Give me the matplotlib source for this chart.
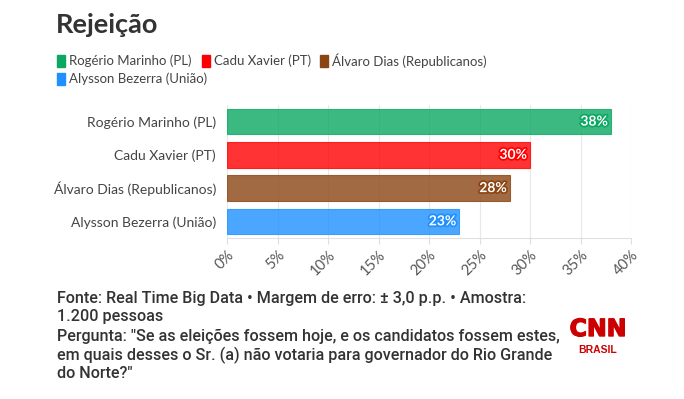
import matplotlib.pyplot as plt
import matplotlib.patheffects as pe

plt.rcParams['font.family'] = ['Lato', 'DejaVu Sans']

candidates = ['Rogério Marinho (PL)', 'Cadu Xavier (PT)', 'Álvaro Dias (Republicanos)', 'Alysson Bezerra (União)']
values = [38, 30, 28, 23]
colors = ['#0aa862', '#ff0000', '#8b4513', '#1e90ff']
ticks = [0, 5, 10, 15, 20, 25, 30, 35, 40]

fig = plt.figure(figsize=(6.84, 3.99), dpi=100)
ax = fig.add_axes([227 / 684, 1 - 238 / 399, (631 - 227) / 684, (238 - 105) / 399])

y = list(range(len(candidates)))[::-1]
ax.barh(y, values, height=0.76, color=colors, alpha=0.8, edgecolor=colors, linewidth=0.8, zorder=3)
for yi, v, c in zip(y, values, colors):
    ax.text(v - 0.3, yi, f'{v}%', ha='right', va='center', color='white', fontsize=10,
            fontweight='bold', zorder=4,
            path_effects=[pe.withStroke(linewidth=2.5, foreground=c)])

ax.set_xlim(0, 40)
ax.set_ylim(-0.5, 3.5)
ax.set_xticks(ticks)
ax.set_xticklabels([f'{t}%' for t in ticks], rotation=45, ha='right', rotation_mode='anchor',
                   fontsize=10.5, color='#555555')
ax.set_yticks(y)
ax.set_yticklabels(candidates, fontsize=10, color='#444444')
ax.tick_params(axis='y', length=0, pad=8)
ax.tick_params(axis='x', length=4, color='#dddddd', pad=3)
ax.grid(axis='x', color='#e8e8e8', linewidth=0.8, zorder=0)
for s in ['top', 'right', 'left']:
    ax.spines[s].set_visible(False)
ax.spines['bottom'].set_color('#e0e0e0')

fig.text(56 / 684, 1 - 25 / 399, 'Rejeição', fontsize=19.5, fontweight='bold', color='#333333', va='center')

# legend
legend_rows = [[0, 1, 2], [3]]
legend_x = [[57, 202, 320], [57]]
legend_y = [61, 79]
for row, xs, ly in zip(legend_rows, legend_x, legend_y):
    for i, lx in zip(row, xs):
        fig.patches.append(plt.Rectangle((lx / 684, 1 - (ly + 6) / 399), 8 / 684, 12 / 399,
                                         transform=fig.transFigure, color=colors[i], figure=fig))
        fig.text((lx + 12) / 684, 1 - ly / 399, candidates[i], fontsize=9.5, color='#444444', va='center')

footer = ['Fonte: Real Time Big Data \u2022 Margem de erro: ± 3,0 p.p. \u2022 Amostra:',
          '1.200 pessoas',
          'Pergunta: "Se as eleições fossem hoje, e os candidatos fossem estes,',
          'em quais desses o Sr. (a) não votaria para governador do Rio Grande',
          'do Norte?"']
for k, line in enumerate(footer):
    fig.text(57 / 684, 1 - (298 + k * 19) / 399, line, fontsize=11.6, fontweight='medium',
             color='#333333', va='center', family='Roboto')

fig.text(598 / 684, 1 - 329 / 399, 'CNN', fontsize=17, fontweight='bold', color='#cc0000',
         ha='center', va='center', family='Liberation Sans Narrow',
         path_effects=[pe.withStroke(linewidth=1, foreground='#cc0000')])
fig.text(598 / 684, 1 - 350 / 399, 'BRASIL', fontsize=7.5, fontweight='bold', color='#cc0000',
         ha='center', va='center', family='Liberation Sans')

fig.savefig('out.png', dpi=100)
